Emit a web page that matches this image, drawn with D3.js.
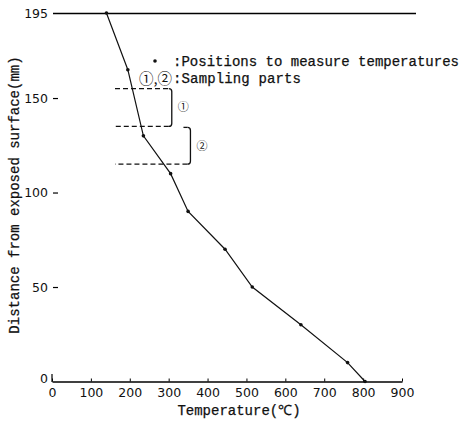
<!DOCTYPE html>
<html>
<head>
<meta charset="utf-8">
<script src="https://cdn.jsdelivr.net/npm/d3@7"></script>
<style>
  body { margin: 0; background: #fff; }
  svg text { fill: #111; }
  .mono { font-family: "Liberation Mono", "DejaVu Sans Mono", monospace; stroke: #111; stroke-width: 0.25px; }
  .num { font-family: "DejaVu Sans", "Liberation Sans", sans-serif; }
</style>
</head>
<body>
<div id="chart"></div>
<script>
// temperature profile (℃) against distance from the exposed surface (mm)
const temps = [140, 195, 235, 305, 350, 445, 515, 640, 760, 805];
const dists = [195, 165, 130, 110, 90, 70, 50, 30, 10, 0];
const xTicks = [0, 100, 200, 300, 400, 500, 600, 700, 800, 900];
const yTicks = [0, 50, 100, 150, 195];
// sampling parts: [from, to] in mm
const parts = [[135, 155], [115, 135]];
const partLabels = ['①', '②'];

const width = 461, height = 422;

const svg = d3.select('#chart')
  .append('svg')
  .attr('width', width)
  .attr('height', height);

const x = d3.scaleLinear().domain([0, 900]).range([52, 402]);
const y = d3.scaleLinear().domain([0, 195]).range([381.5, 13]);

// x axis, ticks pointing up
const xAxis = svg.append('g')
  .attr('transform', `translate(0,${y(0)})`)
  .call(d3.axisBottom(x).tickValues(xTicks).tickSizeInner(-3).tickSizeOuter(0).tickPadding(7));
xAxis.select('.domain').attr('stroke-width', 1.4);
xAxis.selectAll('.tick line').attr('stroke-width', 1);
xAxis.selectAll('text').attr('class', 'num').attr('font-size', 12.5);

// y axis: no spine, short inward dashes
const yAxis = svg.append('g')
  .attr('transform', `translate(${x(0)},0)`)
  .call(d3.axisLeft(y).tickValues(yTicks).tickSizeInner(-6).tickSizeOuter(0).tickPadding(4));
yAxis.select('.domain').remove();
yAxis.selectAll('.tick line').attr('stroke-width', 1.2).attr('x1', 1);
yAxis.selectAll('text').attr('class', 'num').attr('font-size', 12.5);
// the 0 tick is a short vertical mark
yAxis.selectAll('.tick').filter(d => d === 0).select('line')
  .attr('x1', 0).attr('x2', 0).attr('y2', -8);
yAxis.selectAll('.tick').filter(d => d === 0).select('text').attr('dy', '0.1em');
// exposed surface line at 195
yAxis.selectAll('.tick').filter(d => d === 195).select('line')
  .attr('x1', 1).attr('x2', 364).attr('stroke-width', 1.4);

// profile
const line = d3.line().x(d => x(d[0])).y(d => y(d[1]));
const pts = temps.map((t, i) => [t, dists[i]]);
svg.append('path')
  .datum(pts)
  .attr('d', line)
  .attr('fill', 'none')
  .attr('stroke', '#111')
  .attr('stroke-width', 1.2);
svg.append('g').selectAll('circle')
  .data(pts)
  .join('circle')
  .attr('cx', d => x(d[0]))
  .attr('cy', d => y(d[1]))
  .attr('r', 1.8)
  .attr('fill', '#111');

// sampling part brackets
const dashX0 = x(162);
const brX = [x(308), x(356)];
parts.forEach((p, i) => {
  const g = svg.append('g').attr('fill', 'none').attr('stroke', '#111').attr('stroke-width', 1.3);
  const top = y(p[1]) + (i === 1 ? 1 : 0), bot = y(p[0]);
  const bx = brX[i];
  if (i === 0) {
    g.append('path').attr('d', `M${dashX0},${top}H${bx - 3}`).attr('stroke-dasharray', '5,3');
  } else {
    g.append('path').attr('d', `M${bx - 7},${top}H${bx - 3}`);
  }
  g.append('path').attr('d', `M${bx - 3},${top}Q${bx},${top} ${bx},${top + 3}V${bot - 3}Q${bx},${bot} ${bx - 3},${bot}`);
  g.append('path').attr('d', `M${bx - 3},${bot}H${dashX0}`).attr('stroke-dasharray', '5,3');
  svg.append('text')
    .attr('x', bx + 6)
    .attr('y', (top + bot) / 2 + 4)
    .attr('font-family', '"Noto Sans CJK JP", "DejaVu Sans", sans-serif')
    .attr('font-size', 11)
    .text(partLabels[i]);
});

// legend
svg.append('circle').attr('cx', 155).attr('cy', 61).attr('r', 1.8).attr('fill', '#111');
svg.append('text').attr('class', 'mono').attr('x', 173).attr('y', 66)
  .attr('font-size', 14).attr('textLength', 286)
  .text(':Positions to measure temperatures');
svg.append('text').attr('x', 172).attr('y', 84)
  .attr('text-anchor', 'end')
  .attr('font-family', '"Noto Sans CJK JP", "DejaVu Sans", sans-serif')
  .attr('font-size', 14.5)
  .text('①,②');
svg.append('text').attr('class', 'mono').attr('x', 173).attr('y', 83)
  .attr('font-size', 14).attr('textLength', 128)
  .text(':Sampling parts');

// axis titles
svg.append('text').attr('class', 'mono')
  .attr('x', 239).attr('y', 415)
  .attr('text-anchor', 'middle')
  .attr('font-size', 14)
  .text('Temperature(℃)');
svg.append('text').attr('class', 'mono')
  .attr('transform', 'translate(19,195) rotate(-90)')
  .attr('text-anchor', 'middle')
  .attr('font-size', 14)
  .text('Distance from exposed surface(mm)');
</script>
</body>
</html>
